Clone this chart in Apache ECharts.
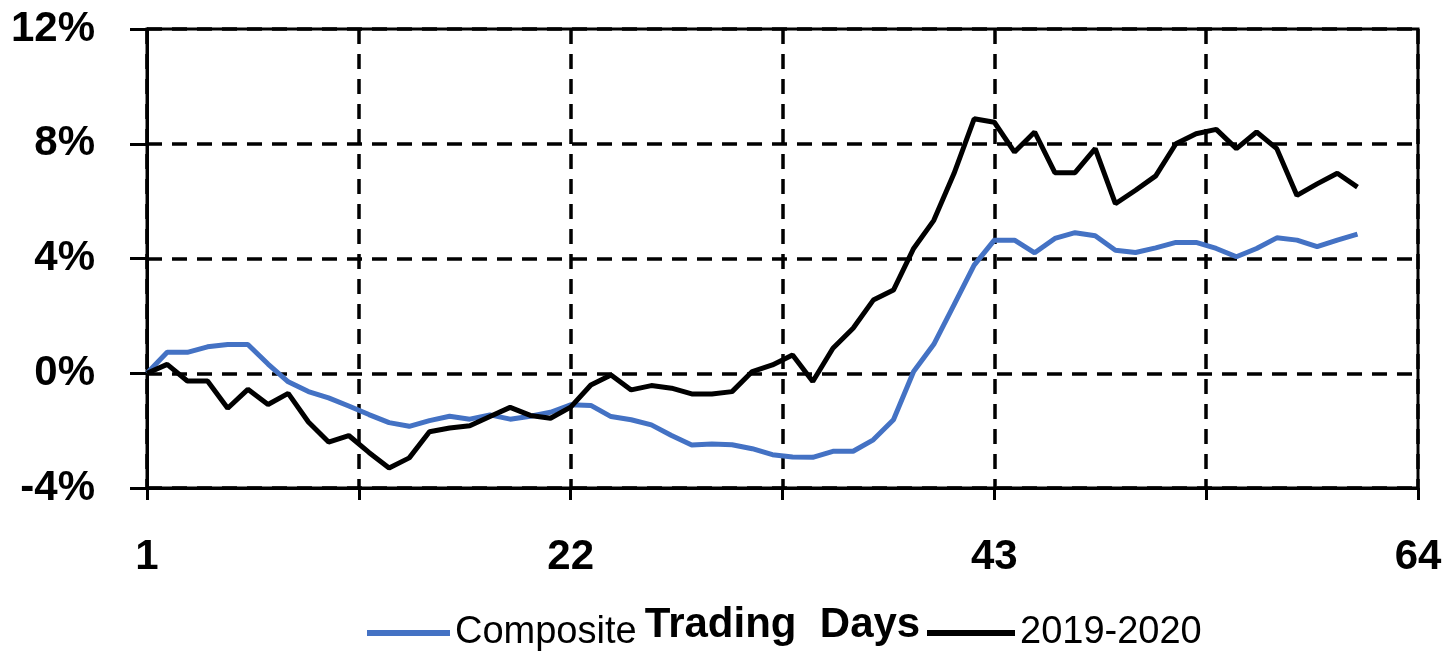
<!DOCTYPE html>
<html>
<head>
<meta charset="utf-8">
<script src="https://cdn.jsdelivr.net/npm/echarts@6/dist/echarts.min.js"></script>
<style>
html,body{margin:0;padding:0;background:#fff;}
#chart{width:1449px;height:651px;}
</style>
</head>
<body>
<div id="chart"></div>
<script>
// Trading days (x categories)
const days = [1,2,3,4,5,6,7,8,9,10,11,12,13,14,15,16,17,18,19,20,21,22,23,24,25,26,27,28,29,30,31,32,33,34,35,36,37,38,39,40,41,42,43,44,45,46,47,48,49,50,51,52,53,54,55,56,57,58,59,60,61];

// Composite (%)
const composite = [0,0.73,0.73,0.92,1.0,1.0,0.32,-0.3,-0.64,-0.86,-1.14,-1.44,-1.72,-1.85,-1.65,-1.5,-1.6,-1.45,-1.6,-1.5,-1.36,-1.1,-1.12,-1.51,-1.62,-1.8,-2.17,-2.5,-2.47,-2.49,-2.63,-2.84,-2.92,-2.93,-2.72,-2.72,-2.32,-1.62,0.06,1.01,2.38,3.77,4.64,4.64,4.2,4.7,4.9,4.79,4.29,4.21,4.37,4.56,4.56,4.35,4.06,4.35,4.72,4.64,4.41,4.64,4.85];

// 2019-2020 (%)
const y2019_2020 = [0,0.31,-0.27,-0.27,-1.22,-0.56,-1.09,-0.7,-1.7,-2.4,-2.17,-2.76,-3.3,-2.95,-2.04,-1.91,-1.83,-1.51,-1.19,-1.47,-1.57,-1.18,-0.41,-0.06,-0.58,-0.43,-0.52,-0.72,-0.72,-0.64,0.06,0.29,0.64,-0.29,0.87,1.57,2.55,2.9,4.35,5.33,6.96,8.87,8.75,7.71,8.41,6.99,6.99,7.83,5.91,6.38,6.88,8.0,8.35,8.5,7.83,8.41,7.83,6.2,6.6,6.97,6.49];

// Axis settings
const xTickLabels = [1,22,43,64];
const yTicks = [-4,0,4,8,12];
const seriesNames = ['Composite','2019-2020'];
const xAxisTitle = 'Trading  Days';

const chart = echarts.init(document.getElementById('chart'), null, {renderer:'canvas'});
const zip = arr => days.map((d,i)=>[d, arr[i]]);
const dashed = {color:'#000', width:3.5, type:[15,10]};
const font = '"Liberation Sans", Arial, sans-serif';

chart.setOption({
  animation:false,
  backgroundColor:'#fff',
  grid:{left:147,right:31,top:29,bottom:161,show:true,borderColor:'#000',borderWidth:3,containLabel:false},
  xAxis:{
    type:'value',min:1,max:64,interval:10.5,
    name:xAxisTitle,nameLocation:'middle',nameGap:116,
    nameTextStyle:{fontFamily:font,fontWeight:'bold',fontSize:42,color:'#000'},
    axisLine:{show:true,onZero:false,lineStyle:{color:'#000',width:3}},
    axisTick:{show:true,length:12,lineStyle:{color:'#000',width:3}},
    axisLabel:{margin:48,fontFamily:font,fontWeight:'bold',fontSize:42,color:'#000',
      formatter:v=>xTickLabels.includes(Math.round(v*100)/100)?String(Math.round(v)):''},
    splitLine:{show:true,lineStyle:dashed}
  },
  yAxis:{
    type:'value',min:yTicks[0],max:yTicks[yTicks.length-1],interval:4,
    axisLine:{show:true,lineStyle:{color:'#000',width:3}},
    axisTick:{show:true,length:17,lineStyle:{color:'#000',width:3}},
    axisLabel:{margin:52,fontFamily:font,fontWeight:'bold',fontSize:42,color:'#000',formatter:v=>v+'%'},
    splitLine:{show:true,lineStyle:dashed}
  },
  legend:[
    {data:[seriesNames[0]],left:362,top:609,icon:'rect',itemWidth:83,itemHeight:6,itemGap:0,itemTextGap:6,
     textStyle:{fontFamily:font,fontSize:38,color:'#000'},selectedMode:false},
    {data:[seriesNames[1]],left:922,top:609,icon:'rect',itemWidth:88,itemHeight:6,itemGap:0,itemTextGap:8,
     textStyle:{fontFamily:font,fontSize:38,color:'#000'},selectedMode:false}
  ],
  series:[
    {name:seriesNames[0],type:'line',data:zip(composite),symbol:'none',color:'#4472C4',
     lineStyle:{color:'#4472C4',width:5},z:3},
    {name:seriesNames[1],type:'line',data:zip(y2019_2020),symbol:'none',color:'#000',
     lineStyle:{color:'#000',width:5},z:4}
  ]
});
</script>
</body>
</html>
